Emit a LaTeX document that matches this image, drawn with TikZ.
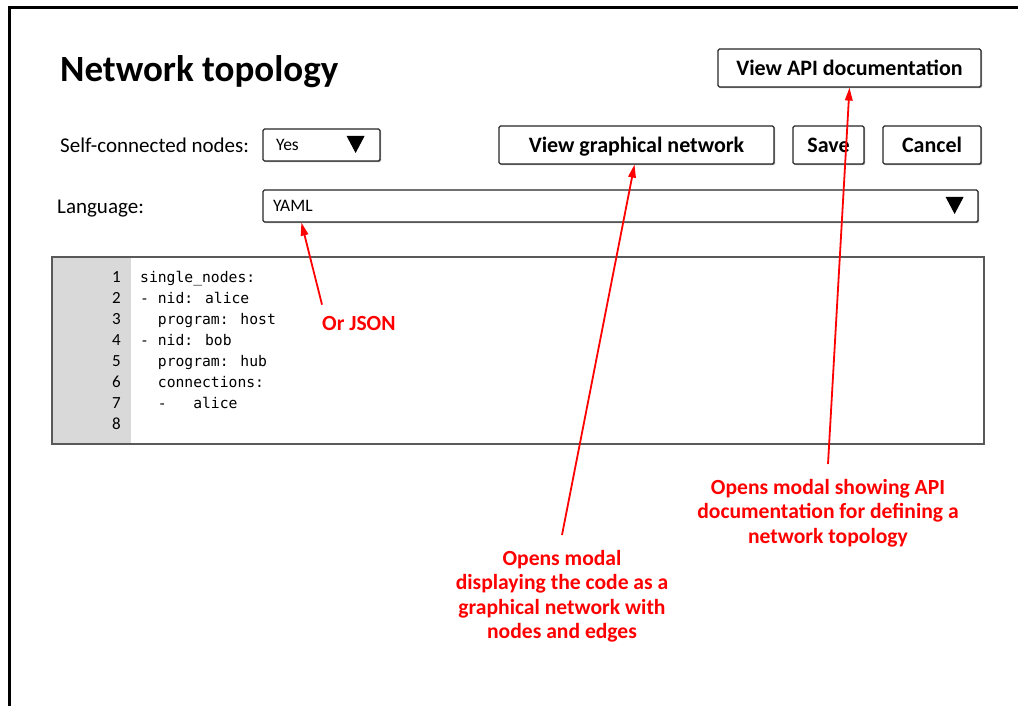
\documentclass[tikz,border=0pt]{standalone}
\usepackage{fontspec}
\setmainfont{Carlito}
\newfontfamily\codefont{DejaVu Sans Mono}
\usetikzlibrary{arrows.meta,shadows,calc}
\definecolor{annot}{RGB}{255,0,0}
\definecolor{gutter}{RGB}{217,217,217}
\begin{document}
\begin{tikzpicture}[x=1pt,y=-1pt,
 uibox/.style={draw=black!85, line width=1.2pt, fill=white, rounded corners=1.5pt,
   drop shadow={shadow xshift=1.2pt, shadow yshift=-1.2pt, opacity=0.35, fill=black}},
 btn/.style={uibox, inner sep=0pt, minimum height=38pt, text height=14.1pt, text depth=0pt,
   font=\fontsize{22}{26}\selectfont\bfseries},
 dd/.style={uibox, inner xsep=10pt, inner ysep=0pt, minimum height=32pt, text height=11.2pt,
   text depth=0pt, align=left, font=\fontsize{17.5}{20}\selectfont},
 lbl/.style={anchor=base west, inner sep=0pt, font=\fontsize{21}{24}\selectfont},
 note/.style={text=annot, inner sep=0pt, align=center, font=\fontsize{21.6}{24.4}\selectfont\bfseries},
 arr/.style={draw=annot, line width=1.8pt, -{Triangle[length=13pt,width=7.5pt]}},
 codeln/.style={anchor=base west, inner sep=0pt, font=\fontsize{14.7}{21}\codefont},
 numln/.style={anchor=base east, inner sep=0pt, font=\fontsize{17}{21}\selectfont},
]
\useasboundingbox (0,0) rectangle (1018,706);
\clip (0,0) rectangle (1018,706);
% outer frame
\draw[line width=3pt] (9,730) -- (9,7.5) -- (1040,7.5);

% title
\node[anchor=base west, inner sep=0pt, font=\fontsize{37}{44}\selectfont\bfseries] (title) at (60,82) {Network topology};

% top buttons
\node[btn, minimum width=263pt] (apibtn) at (849.5,68) {View API documentation};
\node[btn, minimum width=275pt] (graphbtn) at (636.5,145) {View graphical network};
\node[btn, minimum width=71pt] (savebtn) at (828.5,145) {Save};
\node[btn, minimum width=98pt] (cancelbtn) at (932,145) {Cancel};

% labels
\node[lbl] (selflbl) at (60,153) {Self-connected nodes:};
\node[lbl] (langlbl) at (57,214) {Language:};

% dropdowns
\node[dd, inner xsep=13pt, minimum width=117pt, text width=91pt] (yesbox) at (321.5,145) {Yes};
\fill ([xshift=-34pt,yshift=9pt]yesbox.east) -- ([xshift=-16pt,yshift=9pt]yesbox.east) -- ([xshift=-25pt,yshift=-8pt]yesbox.east) -- cycle;
\node[dd, minimum width=715pt, text width=695pt] (yamlbox) at (620.5,206) {YAML};
\fill ([xshift=-33pt,yshift=9pt]yamlbox.east) -- ([xshift=-15pt,yshift=9pt]yamlbox.east) -- ([xshift=-24pt,yshift=-8pt]yamlbox.east) -- cycle;

% code editor
\node[fill=gutter, inner sep=0pt, minimum width=80pt, minimum height=187pt, anchor=north west] (gut) at (51,256) {};
\node[draw=black!65, line width=1.5pt, inner sep=0pt, minimum width=932pt, minimum height=187pt, anchor=north west] (code) at (51,256) {};
\foreach \i in {1,...,8} {
  \node[numln] (num\i) at (121,{261+21*\i}) {\i};
}
\foreach \i/\t in {1/{single\symbol{95}nodes:}, 2/{- nid: alice}, 3/{\phantom{xx}program: host}, 4/{- nid: bob}, 5/{\phantom{xx}program: hub}, 6/{\phantom{xx}connections:}, 7/{\phantom{xx}-\phantom{xxx}alice}} {
  \node[codeln] (ln\i) at (140,{261+21*\i}) {\t};
}

% annotations
\node[note, anchor=base west] (orjson) at (322,330) {Or JSON};
\node[note, anchor=north] (note2) at (562,550) {Opens modal\\displaying the code as a\\graphical network with\\nodes and edges};
\node[note, anchor=north] (note3) at (828,479) {Opens modal showing API\\documentation for defining a\\network topology};

\draw[arr] ([yshift=11pt]orjson.north west) -- ([xshift=39pt]yamlbox.south west);
\draw[arr] ([yshift=15pt]note2.north) -- ([xshift=-2pt]graphbtn.south);
\draw[arr] ([yshift=15pt]note3.north) -- (apibtn.south);
\end{tikzpicture}
\end{document}
